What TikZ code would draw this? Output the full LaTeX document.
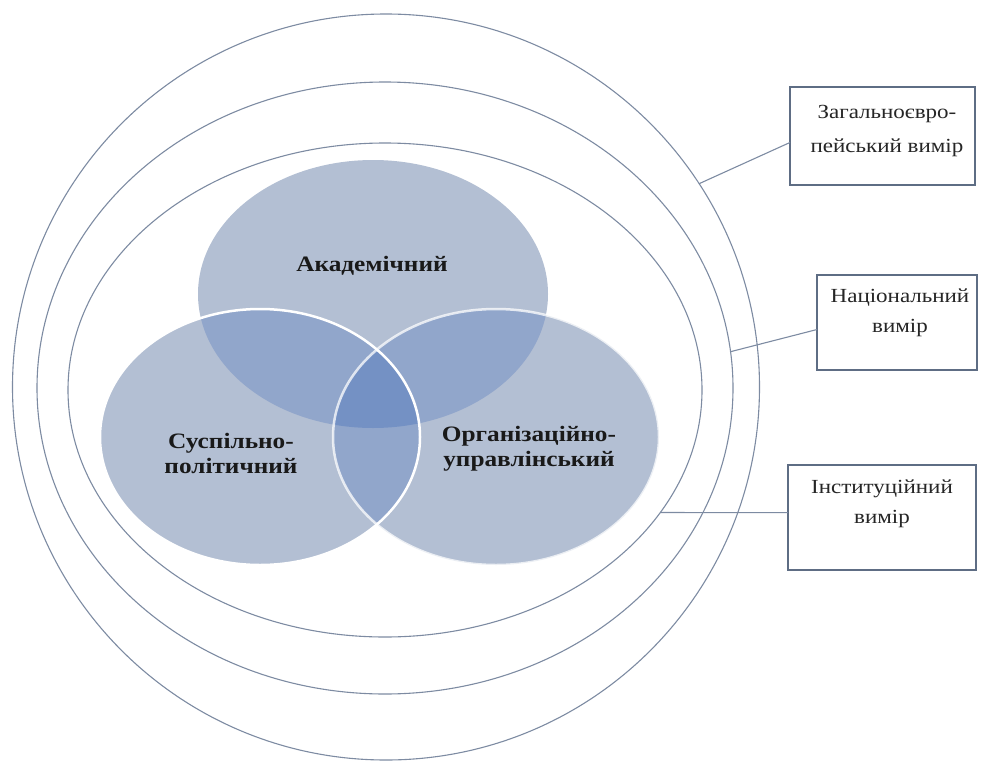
\documentclass[tikz,border=0pt]{standalone}
\usepackage{fontspec}
\setmainfont{Liberation Serif}
\newfontfamily\stretchfont[FakeStretch=1.15]{Liberation Serif}
\usetikzlibrary{shapes.geometric}
\definecolor{ringc}{HTML}{7D8BA2}
\definecolor{boxc}{HTML}{5E6D84}
\definecolor{vbase}{HTML}{B3BFD3}
\definecolor{vtwo}{HTML}{91A6CB}
\definecolor{vthree}{HTML}{7491C4}
\begin{document}
\begin{tikzpicture}[x=1pt,y=-1pt,
  ring/.style={ellipse, draw=ringc, line width=1.1pt, inner sep=0pt, outer sep=0pt},
  dimbox/.style={draw=boxc, line width=1.4pt, fill=white, inner sep=0pt, outer sep=0pt},
  boxtext/.style={font=\stretchfont\fontsize{20}{30}\selectfont, align=center, text=black!85},
  venntext/.style={font=\stretchfont\bfseries\fontsize{22}{25}\selectfont, align=center, text=black!90},
  link/.style={draw=ringc, line width=1.1pt},
  vedge/.style={draw=white, line width=2.5pt}]
\useasboundingbox (0,0) rectangle (985,763);
% concentric rings
\node[ring, minimum width=747pt, minimum height=746pt] (r1) at (386,387) {};
\node[ring, minimum width=696pt, minimum height=612pt] (r2) at (385,388) {};
\node[ring, minimum width=634pt, minimum height=494pt] (r3) at (385,390) {};
% Venn base fills
\fill[vbase] (373,294) ellipse [x radius=175pt, y radius=134pt];
\fill[vbase] (260,437) ellipse [x radius=160pt, y radius=128pt];
\fill[vbase] (496,437) ellipse [x radius=163pt, y radius=128pt];
% pairwise overlaps
\begin{scope}
  \clip (373,294) ellipse [x radius=175pt, y radius=134pt];
  \fill[vtwo] (260,437) ellipse [x radius=160pt, y radius=128pt];
  \fill[vtwo] (496,437) ellipse [x radius=163pt, y radius=128pt];
\end{scope}
\begin{scope}
  \clip (260,437) ellipse [x radius=160pt, y radius=128pt];
  \fill[vtwo] (496,437) ellipse [x radius=163pt, y radius=128pt];
\end{scope}
% triple overlap
\begin{scope}
  \clip (373,294) ellipse [x radius=175pt, y radius=134pt];
  \clip (260,437) ellipse [x radius=160pt, y radius=128pt];
  \fill[vthree] (496,437) ellipse [x radius=163pt, y radius=128pt];
\end{scope}
% white edges
\draw[vedge, opacity=0.75] (496,437) ellipse [x radius=163pt, y radius=128pt];
\draw[vedge] (260,437) ellipse [x radius=160pt, y radius=128pt];
% Venn labels
\node[venntext] (tA) at (372,266) {Академічний};
\node[venntext] (tB) at (231,453) {Суспільно-\\політичний};
\node[venntext] (tC) at (529,449) {Організаційно-\\управлінський};
% boxes
\node[dimbox, minimum width=185pt, minimum height=98pt] (b1) at (882.5,136) {};
\node[dimbox, minimum width=160pt, minimum height=95pt] (b2) at (897,322.5) {};
\node[dimbox, minimum width=188pt, minimum height=105pt] (b3) at (882,517.5) {};
\node[boxtext, font=\stretchfont\fontsize{20}{34}\selectfont] (t1) at (887,131) {Загальноєвро-\\пейський вимір};
\node[boxtext] (t2) at (900,313) {Національний\\вимір};
\node[boxtext] (t3) at (882,504) {Інституційний\\вимір};
% connectors
\draw[link] (r1.33) -- (b1.184);
\draw[link] (r2.6) -- (b2.185);
\draw[link] (r3.-24) -- (b3.177);
\end{tikzpicture}
\end{document}
